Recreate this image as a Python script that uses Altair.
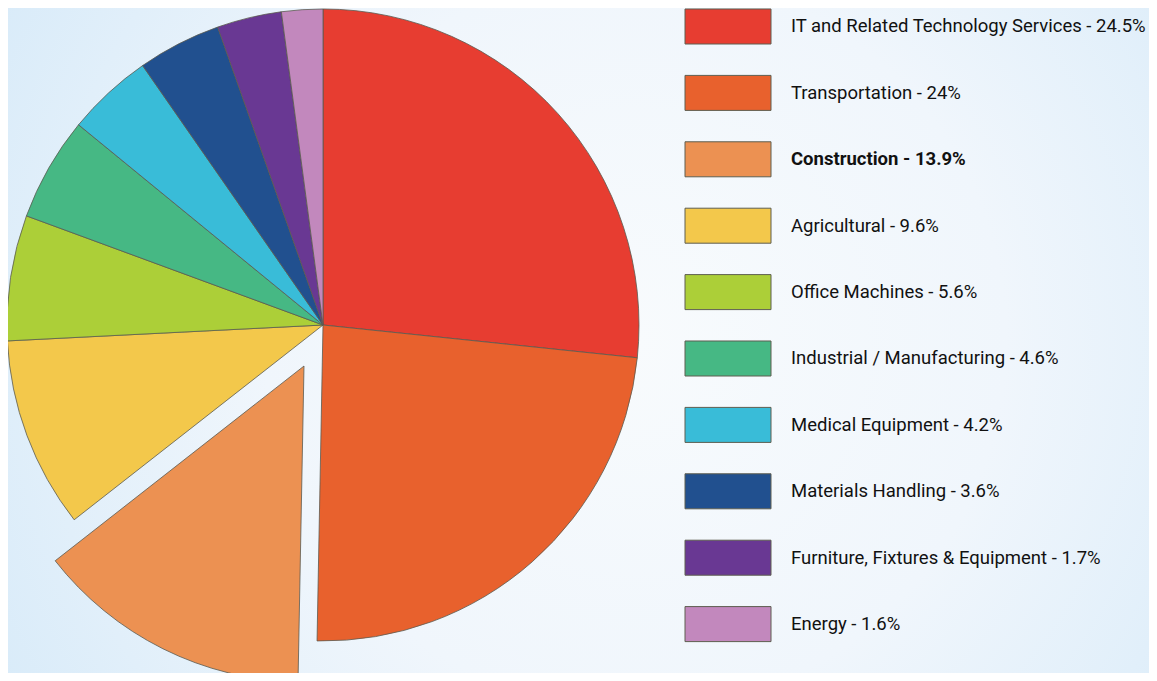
import altair as alt
import pandas as pd

categories = [
    "IT and Related Technology Services",
    "Transportation",
    "Construction",
    "Agricultural",
    "Office Machines",
    "Industrial / Manufacturing",
    "Medical Equipment",
    "Materials Handling",
    "Furniture, Fixtures & Equipment",
    "Energy",
]
# percentages printed in the legend
values = [24.5, 24, 13.9, 9.6, 5.6, 4.6, 4.2, 3.6, 1.7, 1.6]
# slice sizes as drawn in the picture
slice_shares = [26.6, 23.6, 14.1, 9.75, 6.4, 5.3, 4.4, 4.25, 3.3, 2.1]
colors = ["#e73d31", "#e8612d", "#ec9152", "#f3c84b", "#accf38",
          "#46b884", "#39bcd8", "#21508f", "#693893", "#c288bd"]

df = pd.DataFrame({"category": categories, "value": values, "share": slice_shares,
                   "idx": list(range(len(categories)))})

W, H = 1141, 665
CX, CY, R = 315, 317, 316
FONT = "Roboto, sans-serif"
FS = 18.5

color_enc = alt.Color("category:N", scale=alt.Scale(domain=categories, range=colors), legend=None)
y_scale = alt.Scale(domain=[-0.2786, 9.7365], reverse=True, nice=False, zero=False)

bg = alt.Chart(pd.DataFrame({"a": [0]})).mark_rect(
    fill=alt.Gradient(
        gradient="radial",
        stops=[alt.GradientStop(color="#f8fbfd", offset=0),
               alt.GradientStop(color="#f0f6fc", offset=0.45),
               alt.GradientStop(color="#d2e8f8", offset=1)],
        x1=0.55, y1=0.5, x2=0.55, y2=0.5, r1=0, r2=0.72,
    )
).encode(x=alt.value(0), x2=alt.value(W), y=alt.value(0), y2=alt.value(H))

is_con = alt.datum.category == "Construction"

pie = alt.Chart(df).mark_arc(radius=R, stroke="#5b5b50", strokeWidth=0.8).encode(
    theta=alt.Theta("share:Q", stack=True),
    order=alt.Order("idx:Q"),
    color=color_enc,
    opacity=alt.condition(is_con, alt.value(0), alt.value(1)),
    x=alt.value(CX), y=alt.value(CY),
)

pie_ex = alt.Chart(df).mark_arc(radius=R, stroke="#5b5b50", strokeWidth=0.8, xOffset=-19, yOffset=41).encode(
    theta=alt.Theta("share:Q", stack=True),
    order=alt.Order("idx:Q"),
    color=color_enc,
    opacity=alt.condition(is_con, alt.value(1), alt.value(0)),
    x=alt.value(CX), y=alt.value(CY),
)

leg_rect = alt.Chart(df).transform_calculate(
    lo="datum.idx - 0.2636", hi="datum.idx + 0.2636"
).mark_rect(stroke="#5e5e50", strokeWidth=1).encode(
    x=alt.value(677), x2=alt.value(763),
    y=alt.Y("lo:Q", scale=y_scale, axis=None), y2="hi:Q",
    color=color_enc,
)

leg_text = alt.Chart(df).transform_filter(~is_con).transform_calculate(
    label="datum.category + ' - ' + datum.value + '%'"
).mark_text(align="left", baseline="middle", font=FONT, fontSize=FS, color="#111111").encode(
    x=alt.value(783), y=alt.Y("idx:Q", scale=y_scale, axis=None), text="label:N",
)

leg_text_b = alt.Chart(df).transform_filter(is_con).transform_calculate(
    label="datum.category + ' - ' + datum.value + '%'"
).mark_text(align="left", baseline="middle", font=FONT, fontSize=FS, fontWeight="bold", color="#111111").encode(
    x=alt.value(783), y=alt.Y("idx:Q", scale=y_scale, axis=None), text="label:N",
)

chart = alt.layer(bg, pie, pie_ex, leg_rect, leg_text, leg_text_b).properties(
    width=W, height=H, padding=0,
    autosize=alt.AutoSizeParams(type="none"),
    background="#eaf4fb",
).configure_view(stroke=None)

chart.save("out.html", embed_options={"renderer": "svg", "actions": False})
